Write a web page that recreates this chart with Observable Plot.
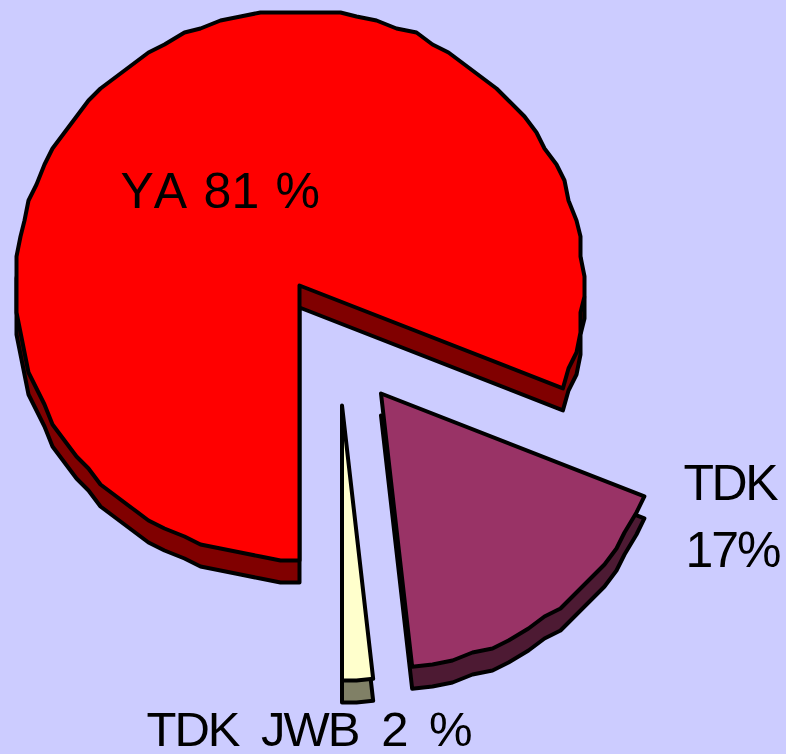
<!DOCTYPE html>
<html><head><meta charset="utf-8">
<script src="https://cdn.jsdelivr.net/npm/d3@7"></script>
<script src="https://cdn.jsdelivr.net/npm/@observablehq/plot@0.6"></script>
<style>html,body{margin:0;padding:0;background:#CCCCFF;overflow:hidden}svg{display:block}</style>
</head><body><div id="chart"></div>
<script>
const sliceNames = ["YA", "TDK", "TDK JWB"];
const shares = [81.1, 17.15, 1.75];
const topColors = ["#FF0000", "#993366", "#FFFFCC"];
const wallColors = ["#800000", "#4D1A33", "#808066"];
const anchorX = [299, 380.5, 341.5];
const anchorY = [285, 393, 405];
const labelLines = ["YA 81 %", "TDK", "17%", "TDK JWB 2 %"];
const labelX = [120, 683, 685, 146];
const labelY = [207.5, 499.5, 566.5, 745];
const labelSize = [50, 50, 50, 49];
const labelTracking = [0, -2.5, -2, -2];
const labelWordGap = [2.5, 0, 0, 11];

const W = 786, H = 754, RX = 284, RY = 275, DEPTH = 22, STEP = 4, GRID = 4;
const snap = v => Math.round(v / GRID) * GRID;

function ring(i, startDeg, sweepDeg, layer) {
  const off = layer === "wall" ? DEPTH : 0;
  const pts = [{x: anchorX[i], y: anchorY[i] + off, s: i, layer}];
  const n = Math.max(1, Math.round(sweepDeg / STEP));
  for (let k = 0; k <= n; k++) {
    const a = (startDeg + sweepDeg * k / n) * Math.PI / 180;
    const edge = k === 0 || k === n;
    const px = anchorX[i] + RX * Math.sin(a), py = anchorY[i] - RY * Math.cos(a);
    pts.push({x: edge ? px : snap(px), y: (edge ? py : snap(py)) + off, s: i, layer});
  }
  return pts;
}

// clockwise from straight down
let start = 180;
const walls = [], tops = [];
shares.forEach((v, i) => {
  const sweep = v * 3.6;
  walls.push(ring(i, start, sweep, "wall"));
  tops.push(ring(i, start, sweep, "top"));
  start += sweep;
});

const sliceMark = (pts, fill) => Plot.line(pts, {
  x: "x", y: "y", curve: "linear-closed", fill, stroke: "#000",
  strokeWidth: 4, strokeLinejoin: "round", strokeLinecap: "round"
});

const plot = Plot.plot({
  width: W, height: H, margin: 0,
  style: {background: "#CCCCFF"},
  x: {domain: [0, W], range: [0, W], axis: null},
  y: {domain: [0, H], range: [0, H], axis: null},
  marks: [
    ...walls.map((p, i) => sliceMark(p, wallColors[i])),
    ...tops.map((p, i) => sliceMark(p, topColors[i])),
    ...labelLines.map((t, i) => Plot.text([t], {
      x: () => labelX[i], y: () => labelY[i], text: d => d,
      textAnchor: "start", lineAnchor: "bottom", fill: "#000",
      fontFamily: "Liberation Sans", fontSize: labelSize[i],
      className: "lbl" + i
    }))
  ]
});
labelLines.forEach((t, i) => {
  plot.querySelectorAll(".lbl" + i + " text").forEach(el => {
    el.style.letterSpacing = labelTracking[i] + "px";
    el.style.wordSpacing = labelWordGap[i] + "px";
    el.style.fontKerning = "none";
  });
});
document.getElementById("chart").appendChild(plot);
</script></body></html>
